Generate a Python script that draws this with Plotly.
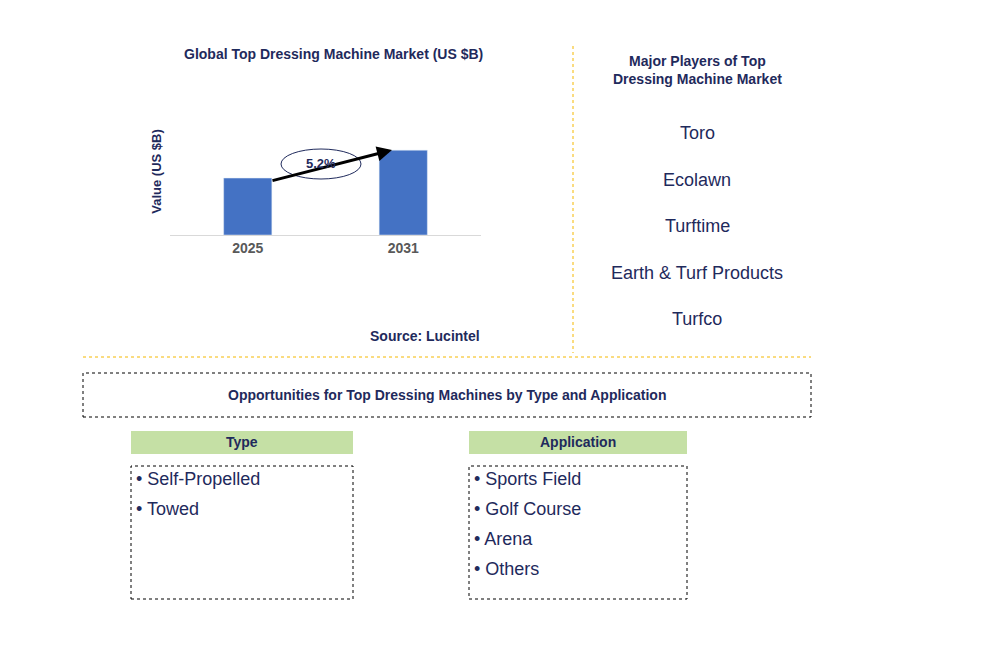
import plotly.graph_objects as go

years = ["2025", "2031"]
values = [1.0, 1.49]
cagr_label = "5.2%"
players = ["Toro", "Ecolawn", "Turftime", "Earth & Turf Products", "Turfco"]
types = ["Self-Propelled", "Towed"]
applications = ["Sports Field", "Golf Course", "Arena", "Others"]

W, H = 996, 652
def px(x): return x / W
def py(y): return 1 - y / H

NAVY = "#1F2A5C"
fig = go.Figure(go.Bar(x=years, y=values, marker_color="#4472C4", width=0.31))
fig.update_layout(
    width=W, height=H, margin=dict(l=0, r=0, t=0, b=0),
    plot_bgcolor="white", paper_bgcolor="white", showlegend=False,
    font=dict(family="Liberation Sans, Arial", color=NAVY),
    xaxis=dict(domain=[px(162), px(473)], range=[-0.5, 1.5], showline=True, linecolor="#D9D9D9",
               tickfont=dict(size=14, color="#595959", family="Liberation Sans"), ticks="", fixedrange=True),
    yaxis=dict(domain=[py(227), py(100)], range=[0, 2.23], showticklabels=False, showgrid=False,
               zeroline=False, title=dict(text="<b>Value (US $B)</b>", font=dict(size=13, color=NAVY), standoff=4)),
)
fig.update_xaxes(tickprefix="<b>", ticksuffix="</b>")

shapes = []
def rect(x0, y0, x1, y1, dash="dot", fill=None, lc="black", lw=1):
    shapes.append(dict(type="rect", xref="paper", yref="paper", x0=px(x0), x1=px(x1), y0=py(y1), y1=py(y0),
                       line=dict(color=lc, width=lw, dash=dash) if lw else dict(width=0), fillcolor=fill or "rgba(0,0,0,0)"))
shapes.append(dict(type="line", xref="paper", yref="paper", x0=px(565), x1=px(565), y0=py(38), y1=py(345),
                   line=dict(color="#F5B800", width=1, dash="dot")))
shapes.append(dict(type="line", xref="paper", yref="paper", x0=px(75), x1=px(803), y0=py(349), y1=py(349),
                   line=dict(color="#F5B800", width=1, dash="dot")))
rect(75, 365, 803, 409)
rect(123, 423, 345, 446, fill="#C5E0A5", lw=0)
rect(123, 458, 345, 591)
rect(461, 423, 679, 446, fill="#C5E0A5", lw=0)
rect(461, 458, 679, 591)

ann = []
ann.append(dict(xref="paper", yref="paper", x=px(384), y=py(142), ax=263 - 384, ay=173 - 142,
                showarrow=True, arrowhead=2, arrowsize=1, arrowwidth=3, arrowcolor="black", text=""))
shapes.append(dict(type="circle", xref="paper", yref="paper", x0=px(273), x1=px(353), y0=py(171), y1=py(141),
                   line=dict(color=NAVY, width=1), fillcolor="white", layer="above"))
def txt(x, y, t, size=14, bold=False, color=NAVY, xanchor="center"):
    ann.append(dict(xref="paper", yref="paper", x=px(x), y=py(y), text=f"<b>{t}</b>" if bold else t,
                    showarrow=False, xanchor=xanchor, yanchor="middle", font=dict(size=size, color=color)))
txt(313, 156, cagr_label, 13, True)
txt(325, 46, "Global Top Dressing Machine Market (US $B)", 14, True)
txt(417, 328, "Source: Lucintel", 14, True)
txt(689, 62, "Major Players of Top<br>Dressing Machine Market", 14, True)
for i, p in enumerate(players):
    txt(689, 125 + i * 46.5, p, 18)
txt(439, 387, "Opportunities for Top Dressing Machines by Type and Application", 14, True)
txt(234, 434, "Type", 14, True)
txt(570, 434, "Application", 14, True)
for i, t in enumerate(types):
    txt(126, 471 + i * 30, "• " + t, 18, xanchor="left")
for i, t in enumerate(applications):
    txt(464, 471 + i * 30, "• " + t, 18, xanchor="left")

fig.update_layout(shapes=shapes, annotations=ann)
fig.write_html("out.html")
